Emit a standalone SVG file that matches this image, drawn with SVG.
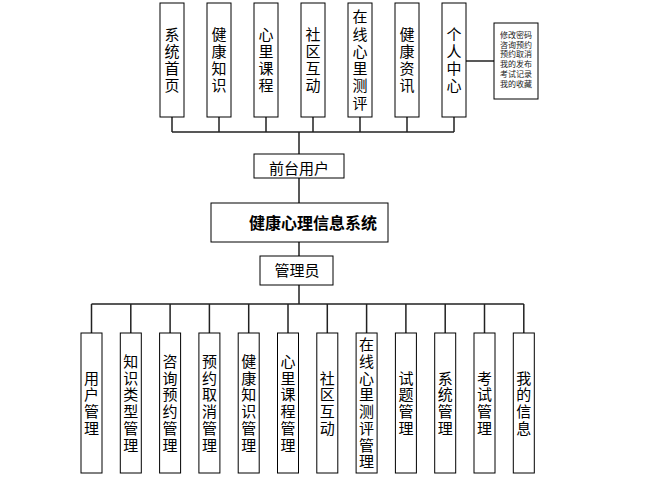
<svg xmlns="http://www.w3.org/2000/svg" width="655" height="481" viewBox="0 0 655 481">
<style>
.box{fill:#fff;stroke:#000;stroke-width:1}
.t{font-family:"Noto Sans CJK SC","Noto Sans",sans-serif;font-size:15px;fill:#000;text-anchor:middle}
.v{font-family:"Noto Sans CJK SC","Noto Sans",sans-serif;font-size:15px;fill:#000;text-anchor:middle;writing-mode:vertical-rl;text-orientation:upright}
.vt{letter-spacing:2.3px}
.vb{letter-spacing:1.7px}
.b{font-weight:bold;font-size:16px;text-anchor:start}
.s{font-family:"Noto Sans CJK SC",sans-serif;font-size:8px;fill:#222}
.ln{stroke:#222;stroke-width:1.5;fill:none}
</style>
<rect width="655" height="481" fill="#fff"/>
<g id="connectors">
<path class="ln" d="M172,117V132M219,117V132M266,117V132M313,117V132M360,117V132M407,117V132M454,117V132M172,132H454M299,132V154"/>
<path class="ln" d="M466,61H494"/>
<path class="ln" d="M299,178V203M299,242V256M299,285V304"/>
<path class="ln" d="M91.5,304H523.8M91.5,304V333M130.8,304V333M170.1,304V333M209.4,304V333M248.7,304V333M288,304V333M327.3,304V333M366.6,304V333M405.9,304V333M445.2,304V333M484.5,304V333M523.8,304V333"/>
</g>
<g id="top1"><rect class="box" x="160" y="3" width="24" height="114"/><text class="v vt" x="172" y="61">系统首页</text></g>
<g id="top2"><rect class="box" x="207" y="3" width="24" height="114"/><text class="v vt" x="219" y="61">健康知识</text></g>
<g id="top3"><rect class="box" x="254" y="3" width="24" height="114"/><text class="v vt" x="266" y="61">心里课程</text></g>
<g id="top4"><rect class="box" x="301" y="3" width="24" height="114"/><text class="v vt" x="313" y="61">社区互动</text></g>
<g id="top5"><rect class="box" x="348" y="3" width="24" height="114"/><text class="v vt" x="360" y="61">在线心里测评</text></g>
<g id="top6"><rect class="box" x="395" y="3" width="24" height="114"/><text class="v vt" x="407" y="61">健康资讯</text></g>
<g id="top7"><rect class="box" x="442" y="3" width="24" height="114"/><text class="v vt" x="454" y="61">个人中心</text></g>
<g id="personal"><rect class="box" x="494" y="23" width="44" height="76" stroke="#444"/><text class="s"><tspan x="500" y="38">修改密码</tspan><tspan x="500" dy="9.7">咨询预约</tspan><tspan x="500" dy="9.7">预约取消</tspan><tspan x="500" dy="9.7">我的发布</tspan><tspan x="500" dy="9.7">考试记录</tspan><tspan x="500" dy="9.7">我的收藏</tspan></text></g>
<g id="front"><rect class="box" x="254" y="154" width="90" height="24"/><text class="t" x="299" y="173.5">前台用户</text></g>
<g id="system"><rect class="box" x="211" y="203" width="177" height="39"/><text class="t b" x="249" y="229">健康心理信息系统</text></g>
<g id="admin"><rect class="box" x="260" y="256" width="73" height="29"/><text class="t" x="297" y="276">管理员</text></g>
<g id="b1"><rect class="box" x="81" y="333" width="21" height="140"/><text class="v vb" x="91.5" y="404">用户管理</text></g>
<g id="b2"><rect class="box" x="120.3" y="333" width="21" height="140"/><text class="v vb" x="130.8" y="404">知识类型管理</text></g>
<g id="b3"><rect class="box" x="159.6" y="333" width="21" height="140"/><text class="v vb" x="170.1" y="404">咨询预约管理</text></g>
<g id="b4"><rect class="box" x="198.9" y="333" width="21" height="140"/><text class="v vb" x="209.4" y="404">预约取消管理</text></g>
<g id="b5"><rect class="box" x="238.2" y="333" width="21" height="140"/><text class="v vb" x="248.7" y="404">健康知识管理</text></g>
<g id="b6"><rect class="box" x="277.5" y="333" width="21" height="140"/><text class="v vb" x="288" y="404">心里课程管理</text></g>
<g id="b7"><rect class="box" x="316.8" y="333" width="21" height="140"/><text class="v vb" x="327.3" y="404">社区互动</text></g>
<g id="b8"><rect class="box" x="356.1" y="333" width="21" height="140"/><text class="v vb" x="366.6" y="404">在线心里测评管理</text></g>
<g id="b9"><rect class="box" x="395.4" y="333" width="21" height="140"/><text class="v vb" x="405.9" y="404">试题管理</text></g>
<g id="b10"><rect class="box" x="434.7" y="333" width="21" height="140"/><text class="v vb" x="445.2" y="404">系统管理</text></g>
<g id="b11"><rect class="box" x="474" y="333" width="21" height="140"/><text class="v vb" x="484.5" y="404">考试管理</text></g>
<g id="b12"><rect class="box" x="513.3" y="333" width="21" height="140"/><text class="v vb" x="523.8" y="404">我的信息</text></g>
</svg>
